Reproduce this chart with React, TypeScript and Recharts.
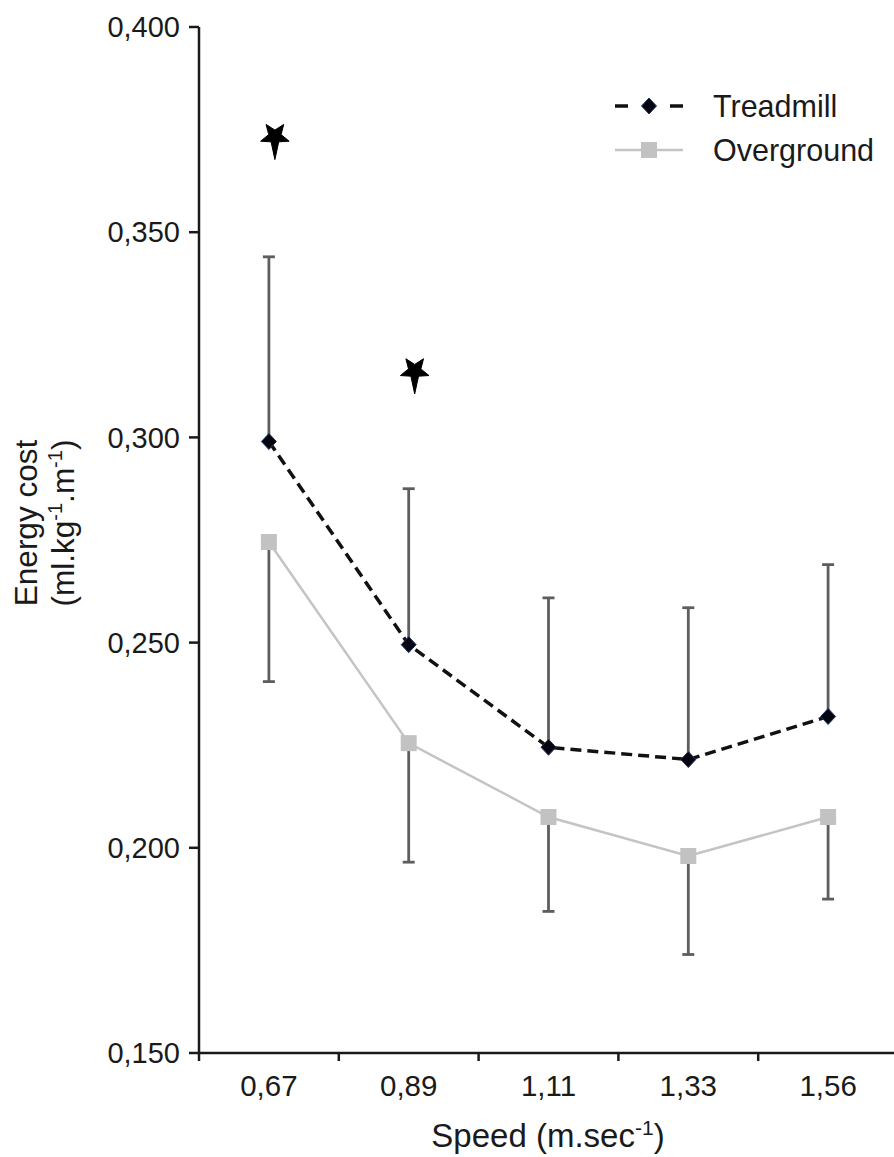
import { ComposedChart, Line, ErrorBar, XAxis, YAxis, Legend } from 'recharts'

const speeds = ['0,67', '0,89', '1,11', '1,33', '1,56']
const treadmill = [0.299, 0.2495, 0.2245, 0.2215, 0.232]
const treadmillSd = [0.045, 0.038, 0.0364, 0.037, 0.037]
const overground = [0.2745, 0.2255, 0.2075, 0.198, 0.2075]
const overgroundSd = [0.034, 0.029, 0.023, 0.024, 0.02]
// significance markers (star height in y units)
const stars = [0.3733, 0.3162, null, null, null]
const yTicks = [0.15, 0.2, 0.25, 0.3, 0.35, 0.4]
const legendOrder = ['treadmill', 'overground']

// treadmill SD drawn upward only, overground SD downward only
const data = speeds.map((s, i) => ({
  speed: s,
  treadmill: treadmill[i],
  tErr: [0, treadmillSd[i]],
  overground: overground[i],
  oErr: [overgroundSd[i], 0],
  star: stars[i],
}))

const FONT = '"Liberation Sans", Arial, sans-serif'
const INK = '#1a1a1a'
const CHART_W = 904
const Y_AXIS_W = 199
const RIGHT = 6
const HALF_BAND = (CHART_W - Y_AXIS_W - RIGHT) / speeds.length / 2

function Diamond({ cx, cy }: any) {
  if (cx == null || cy == null) return null
  return (
    <polygon
      points={`${cx},${cy - 8} ${cx + 7.5},${cy} ${cx},${cy + 8} ${cx - 7.5},${cy}`}
      fill="#050510"
      stroke="#1d3566"
      strokeWidth={1}
    />
  )
}

function Square({ cx, cy }: any) {
  if (cx == null || cy == null) return null
  return <rect x={cx - 8} y={cy - 8} width={16} height={16} fill="#c2c2c2" />
}

function Star({ cx, cy }: any) {
  if (cx == null || cy == null) return null
  const x0 = cx + 6
  const pts: string[] = []
  for (let k = 0; k < 10; k++) {
    const a = (k * 36 * Math.PI) / 180 + Math.PI / 5
    let r = k % 2 === 0 ? 15 : 6.5
    if (k === 4) r = 23
    pts.push(`${x0 + r * Math.sin(a)},${cy - r * Math.cos(a)}`)
  }
  return <polygon points={pts.join(' ')} fill="#000" stroke="#000" strokeWidth={1} strokeLinejoin="round" />
}

function XTick({ x, y, payload, index }: any) {
  return (
    <g>
      <line x1={x - HALF_BAND} y1={y} x2={x - HALF_BAND} y2={y + 8} stroke={INK} strokeWidth={2.5} />
      {index === speeds.length - 1 && (
        <line x1={x + HALF_BAND} y1={y} x2={x + HALF_BAND} y2={y + 8} stroke={INK} strokeWidth={2.5} />
      )}
      <text x={x} y={y + 43} textAnchor="middle" fontSize={29.5} fontFamily={FONT} fill={INK}>
        {payload.value}
      </text>
    </g>
  )
}

function LegendBox({ payload }: any) {
  const items = legendOrder
    .map((k) => (payload || []).find((p: any) => p.dataKey === k))
    .filter(Boolean)
  return (
    <div style={{ fontFamily: FONT, fontSize: 30.5, color: INK }}>
      {items.map((p: any) => (
        <div key={p.dataKey} style={{ display: 'flex', alignItems: 'center', height: 44 }}>
          <svg width={68} height={20} style={{ marginRight: 30 }}>
            {p.dataKey === 'treadmill' ? (
              <>
                <line x1={0} y1={10} x2={68} y2={10} stroke="#111" strokeWidth={3.5} strokeDasharray="13 42 13" />
                <Diamond cx={34} cy={10} />
              </>
            ) : (
              <>
                <line x1={0} y1={10} x2={68} y2={10} stroke="#c4c4c4" strokeWidth={2.5} />
                <rect x={26} y={2} width={16} height={16} fill="#c2c2c2" />
              </>
            )}
          </svg>
          <span>{p.value}</span>
        </div>
      ))}
    </div>
  )
}

export default function App() {
  return (
    <div style={{ position: 'absolute', left: 0, top: 0, width: 894, height: 1157, overflow: 'hidden', background: '#fff' }}>
      <ComposedChart width={CHART_W} height={1157} data={data} margin={{ top: 27, right: RIGHT, bottom: 0, left: 0 }}>
        <XAxis
          dataKey="speed"
          scale="band"
          height={104}
          tickLine={false}
          tickSize={0}
          tickMargin={0}
          axisLine={{ stroke: INK, strokeWidth: 2.5 }}
          tick={<XTick />}
          interval={0}
          label={{
            content: () => (
              <text x={548} y={1147} textAnchor="middle" fontSize={33} fontFamily={FONT} fill={INK}>
                Speed (m.sec
                <tspan fontSize={21} dy={-12}>-1</tspan>
                <tspan dy={12}>)</tspan>
              </text>
            ),
          }}
        />
        <YAxis
          width={Y_AXIS_W}
          domain={[0.15, 0.4]}
          ticks={yTicks}
          interval={0}
          tickSize={10}
          tickMargin={9}
          tickFormatter={(v: number) => v.toFixed(3).replace('.', ',')}
          tick={{ fill: INK, fontSize: 29, fontFamily: FONT }}
          tickLine={{ stroke: INK, strokeWidth: 2.5 }}
          axisLine={{ stroke: INK, strokeWidth: 2.5 }}
          label={{
            content: () => (
              <g fontFamily={FONT} fontSize={31.5} fill={INK}>
                <text x={37} y={523} textAnchor="middle" transform="rotate(-90, 37, 523)">
                  Energy cost
                </text>
                <text x={74} y={523} textAnchor="middle" transform="rotate(-90, 74, 523)">
                  (ml.kg
                  <tspan fontSize={20} dy={-12}>-1</tspan>
                  <tspan dy={12}>.m</tspan>
                  <tspan fontSize={20} dy={-12}>-1</tspan>
                  <tspan dy={12}>)</tspan>
                </text>
              </g>
            ),
          }}
        />
        <Legend
          layout="horizontal"
          verticalAlign="middle"
          align="center"
          content={<LegendBox />}
          wrapperStyle={{ position: 'absolute', top: 84, left: 615, width: 285 }}
        />
        <Line
          dataKey="treadmill"
          name="Treadmill"
          stroke="#111"
          strokeWidth={3.5}
          strokeDasharray="11 6"
          dot={<Diamond />}
          activeDot={false}
          isAnimationActive={false}
        >
          <ErrorBar dataKey="tErr" direction="y" width={6} stroke="#5e5e5e" strokeWidth={2.8} />
        </Line>
        <Line
          dataKey="overground"
          name="Overground"
          stroke="#c4c4c4"
          strokeWidth={2.5}
          dot={<Square />}
          activeDot={false}
          isAnimationActive={false}
        >
          <ErrorBar dataKey="oErr" direction="y" width={6} stroke="#5e5e5e" strokeWidth={2.8} />
        </Line>
        <Line
          dataKey="star"
          stroke="none"
          legendType="none"
          dot={<Star />}
          activeDot={false}
          isAnimationActive={false}
        />
      </ComposedChart>
    </div>
  )
}
